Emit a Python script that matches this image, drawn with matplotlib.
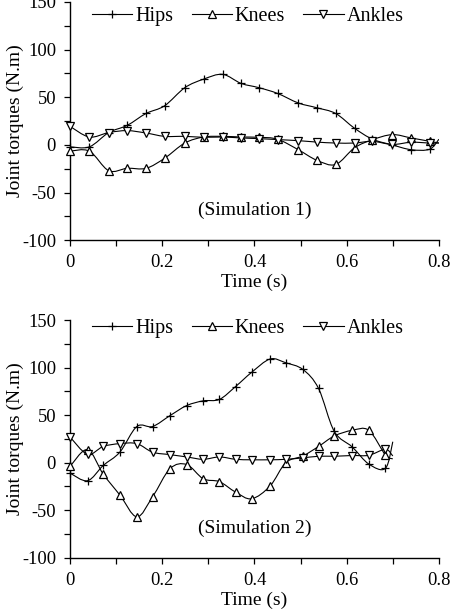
import matplotlib
matplotlib.use("Agg")
import matplotlib.pyplot as plt
from matplotlib.path import Path
from matplotlib.patches import PathPatch
from matplotlib.lines import Line2D
from matplotlib.ticker import MultipleLocator

plt.rcParams['font.family'] = ['Liberation Serif', 'DejaVu Serif']
plt.rcParams['axes.unicode_minus'] = False

# Simulation 1 (last point of each series has no marker)
time1 = [0, 0.042, 0.084, 0.124, 0.165, 0.205, 0.249, 0.290, 0.331, 0.371, 0.410,
         0.450, 0.495, 0.535, 0.576, 0.617, 0.656, 0.699, 0.740, 0.780, 0.80]
hips1 = [-2, -2, 13, 20.5, 33, 41, 60, 69, 74, 64.5, 60,
         54, 44, 39, 33, 17.5, 6, 0, -5, -4.5, 6]
knees1 = [-6.5, -6.5, -27, -24.5, -24.5, -14, 2, 8.3, 9, 8.3, 8,
          6, -5, -16, -20.5, -3, 5.5, 10.8, 7.3, 3.8, 2]
ankles1 = [19.5, 8.3, 13, 15, 12.5, 9, 9, 8, 8.3, 7.3, 6.6,
           5.6, 4.5, 3, 2, 2, 3.8, 0.5, 2.8, 2, 2]

# Simulation 2
time2 = [0, 0.038, 0.072, 0.108, 0.145, 0.179, 0.217, 0.253, 0.289, 0.324, 0.359,
         0.394, 0.434, 0.468, 0.505, 0.539, 0.573, 0.612, 0.648, 0.684, 0.70]
hips2 = [-11, -19, -3, 11, 38, 38, 49.5, 60, 65, 66.5, 80,
         95, 109, 105, 98, 78, 33, 16.5, -1.5, -6, 22]
knees2 = [-4, 13.7, -12, -34, -57, -36, -6.3, -2, -17, -20, -31,
          -38, -24.5, 0, 7, 17, 28, 34, 34, 8, 4]
ankles2 = [27, 8.8, 17, 20, 20, 11, 8.4, 6, 3.5, 6, 3.5,
           3, 3, 3.5, 5, 6.7, 6.7, 7.5, 7.7, 14, 7]

labels = ['Hips', 'Knees', 'Ankles']
markers = ['+', '^', 'v']


def smooth_path(xs, ys):
    # excel style smoothed line: bezier segments through every point
    n = len(xs)
    verts = [(xs[0], ys[0])]
    codes = [Path.MOVETO]
    for i in range(n - 1):
        x0, y0 = (xs[i - 1], ys[i - 1]) if i > 0 else (xs[i], ys[i])
        x1, y1 = xs[i], ys[i]
        x2, y2 = xs[i + 1], ys[i + 1]
        x3, y3 = (xs[i + 2], ys[i + 2]) if i + 2 < n else (x2, y2)
        c1 = (x1 + (x2 - x0) / 6, y1 + (y2 - y0) / 6)
        c2 = (x2 - (x3 - x1) / 6, y2 - (y3 - y1) / 6)
        verts += [c1, c2, (x2, y2)]
        codes += [Path.CURVE4] * 3
    return Path(verts, codes)


def draw_panel(ax, t, series, note, leg_y):
    for vals, m in zip(series, markers):
        ax.add_patch(PathPatch(smooth_path(t, vals), fill=False, lw=0.8,
                               ec='black', zorder=2))
        ms = 6 if m == '+' else 5.5
        ax.plot(t[:-1], vals[:-1], ls='none', marker=m, ms=ms, mfc='white',
                mec='black', mew=0.9, zorder=3, clip_on=False)

    ax.set_xlim(0, 0.8)
    ax.set_ylim(-100, 150)
    ax.xaxis.set_major_locator(MultipleLocator(0.2))
    ax.xaxis.set_minor_locator(MultipleLocator(0.1))
    ax.yaxis.set_major_locator(MultipleLocator(50))
    ax.yaxis.set_minor_locator(MultipleLocator(25))
    ax.xaxis.set_major_formatter(lambda v, p: '0' if abs(v) < 1e-9 else '%g' % v)
    ax.tick_params(which='both', direction='out', length=4, width=0.9,
                   labelsize=13.3, pad=6)
    for s in ['top', 'right']:
        ax.spines[s].set_visible(False)
    for s in ['left', 'bottom']:
        ax.spines[s].set_linewidth(1.0)

    ax.set_xlabel('Time (s)', fontsize=14, labelpad=2)
    ax.set_ylabel('Joint torques (N.m)', fontsize=14)
    ax.yaxis.set_label_coords(-0.125, 0.5)

    ax.text(0.40, -69, note, fontsize=14, ha='center', va='center')

    handles = [Line2D([], [], color='black', lw=0.8, marker=m,
                      ms=6 if m == '+' else 5.5, mfc='white', mec='black', mew=0.9)
               for m in markers]
    ax.legend(handles, labels, loc='center left', bbox_to_anchor=(0.06, leg_y),
              ncol=3, frameon=False, fontsize=14.5, handlelength=2.0,
              handletextpad=0.15, columnspacing=0.9, borderpad=0,
              borderaxespad=0, numpoints=1)


fig = plt.figure(figsize=(4.56, 6.10), dpi=100)
ax1 = fig.add_axes([0.1535, 0.606, 0.809, 0.391])
ax2 = fig.add_axes([0.1535, 0.0857, 0.809, 0.3897])

draw_panel(ax1, time1, [hips1, knees1, ankles1], '(Simulation 1)', 0.937)
draw_panel(ax2, time2, [hips2, knees2, ankles2], '(Simulation 2)', 0.966)

fig.savefig('out.png', dpi=100)
